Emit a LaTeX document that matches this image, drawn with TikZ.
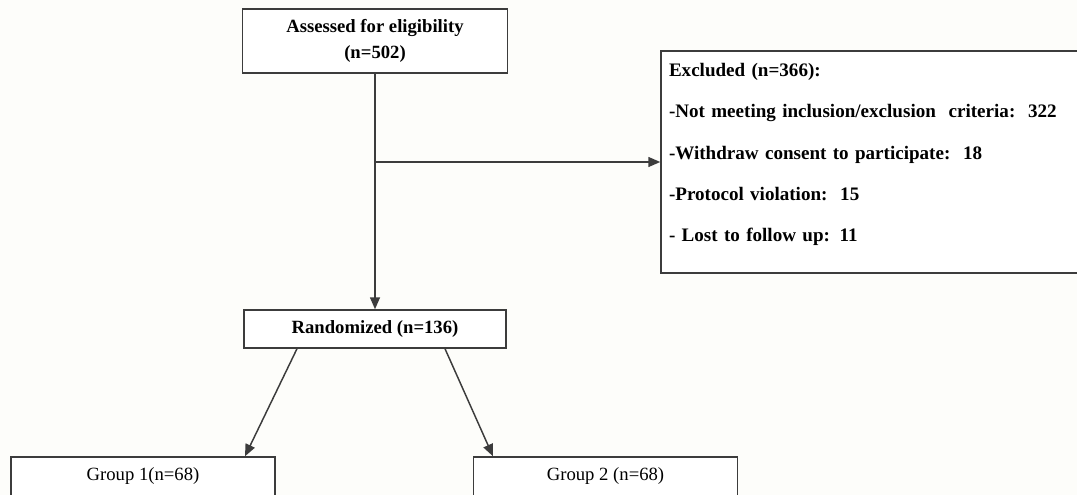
\documentclass[tikz,border=0pt]{standalone}
\usepackage{fontspec}
\setmainfont{Liberation Serif}
\usetikzlibrary{arrows.meta,positioning}
\definecolor{paper}{RGB}{253,253,250}
\definecolor{rule}{RGB}{60,60,60}

\begin{document}
\begin{tikzpicture}[x=0.75pt,y=-0.75pt,
  stage/.style={draw=rule,fill=white,line width=1.1pt,inner sep=0pt,
    align=center,font=\fontsize{14}{20}\selectfont\bfseries},
  group/.style={draw=rule,fill=white,line width=1.1pt,inner sep=0pt,
    minimum width=198pt,minimum height=29.25pt,
    font=\fontsize{14}{17}\selectfont},
  flow/.style={draw=rule,line width=1.1pt,
    -{Triangle[length=9pt,width=7.5pt]}}
]
\useasboundingbox (0,0) rectangle (1077,495);
\fill[paper] (0,0) rectangle (1077,495);
\clip (0,0) rectangle (1077,495);
\node[stage,minimum width=198.75pt,minimum height=48pt] (assess) at (375,41)
  {Assessed for eligibility\\(n=502)};
\node[stage,minimum width=196.5pt,minimum height=28.5pt] (rand) at (375,329)
  {Randomized (n=136)};
\node[stage,minimum width=318pt,minimum height=166.5pt,align=left,
  text width=306pt,font=\fontsize{14.3}{31}\selectfont\bfseries] (excl) at (873,162)
  {Excluded (n=366):\\
   -Not meeting inclusion/exclusion\ \ criteria:\ \ 322\\
   -Withdraw consent to participate:\ \ 18\\
   -Protocol violation:\ \ 15\\
   - Lost to follow up: 11\\[-17pt]\mbox{}};
\node[group] (grpA) at (143,476.5) {Group 1(n=68)};
\node[group] (grpB) at (605.5,476.5) {Group 2 (n=68)};
\coordinate (split) at (assess.south |- excl.west);
\draw[flow] (assess.south) -- (rand.north);
\draw[flow] (split) -- (excl.west);
\draw[flow] ([xshift=-58.5pt]rand.south) -- ([xshift=76.5pt]grpA.north);
\draw[flow] ([xshift=52.5pt]rand.south) -- ([xshift=-84.4pt]grpB.north);
\end{tikzpicture}
\end{document}
